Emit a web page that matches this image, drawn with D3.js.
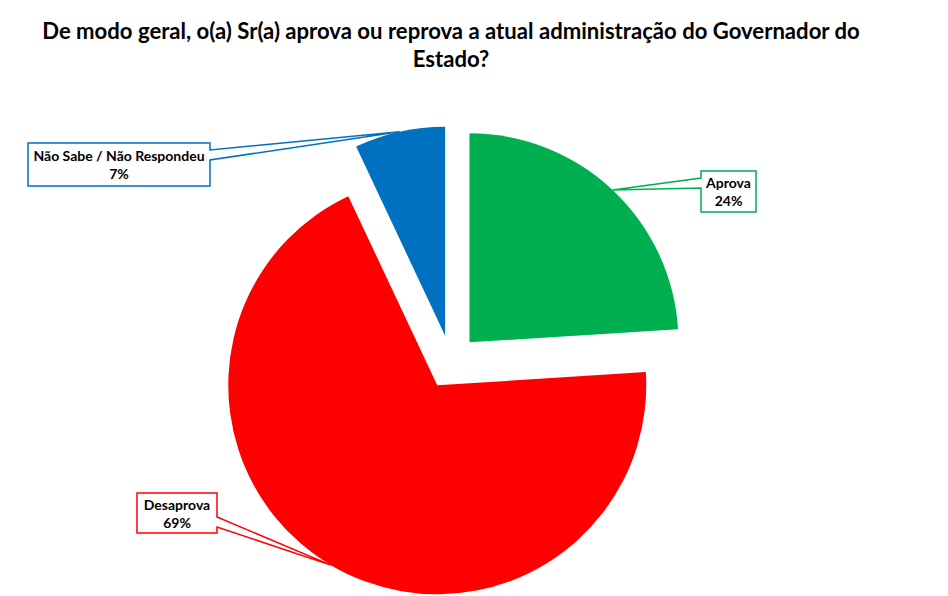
<!DOCTYPE html>
<html>
<head>
<meta charset="utf-8">
<script src="https://cdn.jsdelivr.net/npm/d3@7"></script>
<style>
  html, body { margin: 0; padding: 0; background: #fff; }
  svg { display: block; font-family: Lato, "Open Sans", sans-serif; }
</style>
</head>
<body>
<div id="chart"></div>
<script>
/* Aprovação do Governador — pie chart, D3 v7 */
const title = ['De modo geral, o(a) Sr(a) aprova ou reprova a atual administração do Governador do', 'Estado?'];
const categories = ['Aprova', 'Desaprova', 'Não Sabe / Não Respondeu'];
const values = [24, 69, 7];
const colors = ['#00b050', '#ff0000', '#0070c0'];

// callout boxes (x, y, w, h) and where the pointer leaves the box
const callouts = {
  'Aprova': { box: [701, 171, 55, 41], side: 'left', base: [178, 188] },
  'Desaprova': { box: [137, 493, 80, 40], side: 'right', base: [517, 527] },
  'Não Sabe / Não Respondeu': { box: [28, 143, 182, 43], side: 'right', base: [150, 160] }
};

const W = 948, H = 596;
const cx = 451, cy = 362, radius = 209, explode = 27;

const svg = d3.select('#chart').append('svg').attr('width', W).attr('height', H);

// fit text to a target width
function fit(sel, target, base) {
  sel.attr('font-size', base);
  const len = sel.node().getComputedTextLength();
  const size = base * target / len;
  sel.attr('font-size', size);
  return size;
}

// title
const t1 = svg.append('text').attr('x', 451).attr('y', 30).attr('text-anchor', 'middle')
  .attr('dominant-baseline', 'central').attr('font-weight', 'bold').attr('fill', '#000').text(title[0]);
const tSize = fit(t1, 818, 20);
svg.append('text').attr('x', 451).attr('y', 58).attr('text-anchor', 'middle')
  .attr('dominant-baseline', 'central').attr('font-weight', 'bold').attr('fill', '#000')
  .attr('font-size', tSize).text(title[1]);

const data = categories.map((c, i) => ({ name: c, value: values[i], color: colors[i] }));
const pie = d3.pie().value(d => d.value).sort(null);
const arc = d3.arc().innerRadius(0).outerRadius(radius);
const edge = d3.arc().innerRadius(radius).outerRadius(radius);

const g = svg.append('g').attr('transform', `translate(${cx},${cy})`);
const arcs = pie(data);

arcs.forEach(a => {
  const mid = (a.startAngle + a.endAngle) / 2;
  a.dx = explode * Math.sin(mid);
  a.dy = -explode * Math.cos(mid);
});

g.selectAll('.slice').data(arcs).enter().append('path')
  .attr('class', 'slice')
  .attr('transform', d => `translate(${d.dx},${d.dy})`)
  .attr('d', arc)
  .attr('fill', d => d.data.color);

// callouts
let labelSize = null;
arcs.forEach(a => {
  const c = callouts[a.data.name];
  const [bx, by, bw, bh] = c.box;
  const tip = edge.centroid(a);
  const tx = cx + a.dx + tip[0], ty = cy + a.dy + tip[1];
  let p;
  if (c.side === 'right') {
    const ex = bx + bw;
    p = `M${bx},${by}L${ex},${by}L${ex},${c.base[0]}L${tx},${ty}L${ex},${c.base[1]}L${ex},${by + bh}L${bx},${by + bh}Z`;
  } else {
    p = `M${bx},${by}L${bx + bw},${by}L${bx + bw},${by + bh}L${bx},${by + bh}L${bx},${c.base[1]}L${tx},${ty}L${bx},${c.base[0]}Z`;
  }
  svg.append('path').attr('d', p).attr('fill', '#fff')
    .attr('stroke', a.data.color).attr('stroke-width', 1.5).attr('stroke-linejoin', 'miter');

  const lx = bx + bw / 2, ly = by + bh / 2;
  const l1 = svg.append('text').attr('x', lx).attr('y', ly - 9).attr('text-anchor', 'middle')
    .attr('dominant-baseline', 'central').attr('font-weight', 'bold').attr('fill', '#000')
    .text(a.data.name);
  if (labelSize === null) labelSize = 14;
  l1.attr('font-size', labelSize);
  svg.append('text').attr('x', lx).attr('y', ly + 9).attr('text-anchor', 'middle')
    .attr('dominant-baseline', 'central').attr('font-weight', 'bold').attr('fill', '#000')
    .attr('font-size', labelSize).text(a.data.value + '%');
});
</script>
</body>
</html>
